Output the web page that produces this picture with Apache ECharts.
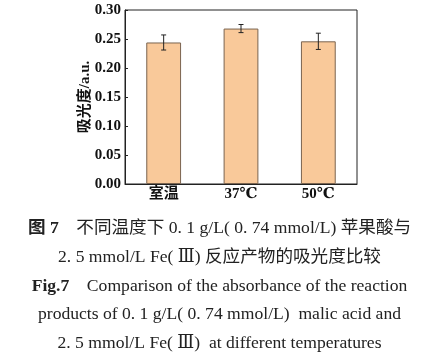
<!DOCTYPE html>
<html><head><meta charset="utf-8">
<script src="https://cdn.jsdelivr.net/npm/echarts@6/dist/echarts.min.js"></script>
<style>html,body{margin:0;padding:0;background:#fff}#c{width:439px;height:362px}</style>
</head><body><div id="c"></div>
<script>
var categories = ['室温', '37℃', '50℃'];
var values = [0.244, 0.268, 0.246];
var errors = [0.013, 0.007, 0.014];
var yTicks = ['0.00','0.05','0.10','0.15','0.20','0.25','0.30'];
var yName = '吸光度/a.u.';
var captions = [
  '{b|图 7}　不同温度下 0. 1 g/L( 0. 74 mmol/L) 苹果酸与',
  '2. 5 mmol/L Fe( Ⅲ) 反应产物的吸光度比较',
  '{b|Fig.7}　Comparison of the absorbance of the reaction',
  'products of 0. 1 g/L( 0. 74 mmol/L)  malic acid and',
  '2. 5 mmol/L Fe( Ⅲ)  at different temperatures'
];
var captionY = [230, 259, 288, 316, 345];

var serif = '"Liberation Serif","DejaVu Serif","Noto Sans CJK SC",serif';
var chart = echarts.init(document.getElementById('c'));
var errData = values.map(function(v, i){ return [i, v - errors[i], v + errors[i]]; });
var graphics = captions.map(function(t, i){
  return {type:'text', left:'center', top: captionY[i] - 10,
    style:{text:t, font:'17.6px ' + serif, fill:'#222',
      rich:{b:{fontWeight:'bold', fontSize:17.6, fontFamily:serif, fill:'#222'}}}};
});
graphics.push({type:'text', x:85, y:97, rotation:Math.PI/2,
  style:{text:yName, font:'bold 15px ' + serif, fill:'#111', align:'center', verticalAlign:'middle'}});
chart.setOption({
  animation:false,
  grid:{left:125, right:82, top:10, bottom:178},
  graphic: graphics,
  xAxis:{type:'category', data:categories,
    axisLine:{show:true, onZero:false, lineStyle:{color:'#222', width:1}},
    axisTick:{show:true, inside:true, alignWithLabel:true, length:3, lineStyle:{color:'#222'}},
    axisLabel:{color:'#111', fontSize:15, fontWeight:'bold', fontFamily:serif, margin:3}},
  yAxis:{type:'value', min:0, max:0.3, interval:0.05,
    axisLine:{show:true, lineStyle:{color:'#222', width:1}},
    axisTick:{show:true, inside:true, length:3, lineStyle:{color:'#222'}},
    splitLine:{show:false},
    axisLabel:{color:'#111', fontSize:15, fontWeight:'bold', fontFamily:serif, margin:4,
      formatter:function(v){ return yTicks[Math.round(v/0.05)]; }}},
  series:[
    {type:'bar', data:values, barWidth:'45%',
      itemStyle:{color:'#F9C99A', borderColor:'#7a6450', borderWidth:1}},
    {type:'custom', data:errData, z:10,
      renderItem:function(params, api){
        var x = api.value(0);
        var lo = api.coord([x, api.value(1)]);
        var hi = api.coord([x, api.value(2)]);
        var w = 2.5;
        var st = {stroke:'#222', lineWidth:1};
        return {type:'group', children:[
          {type:'line', shape:{x1:lo[0], y1:lo[1], x2:hi[0], y2:hi[1]}, style:st},
          {type:'line', shape:{x1:lo[0]-w, y1:lo[1], x2:lo[0]+w, y2:lo[1]}, style:st},
          {type:'line', shape:{x1:hi[0]-w, y1:hi[1], x2:hi[0]+w, y2:hi[1]}, style:st}
        ]};
      }}
  ]
});
var gr = chart.getModel().getComponent('grid').coordinateSystem.getRect();
chart.setOption({graphic: graphics.concat([{type:'rect', shape:{x:gr.x, y:gr.y, width:gr.width, height:gr.height},
  style:{fill:'none', stroke:'#222', lineWidth:1}, z:0, silent:true}])});
</script></body></html>
